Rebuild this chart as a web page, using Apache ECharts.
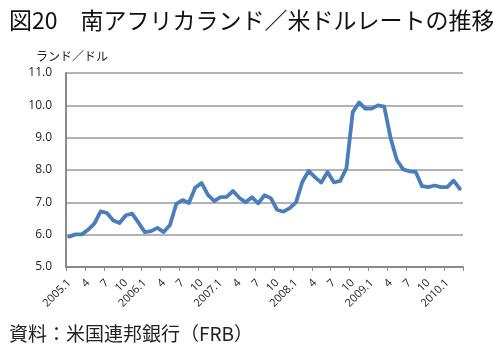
<!DOCTYPE html>
<html>
<head>
<meta charset="utf-8">
<script src="https://cdn.jsdelivr.net/npm/echarts@6/dist/echarts.min.js"></script>
<style>
html,body{margin:0;padding:0;background:#fff;}
#c{width:493px;height:355px;}
</style>
</head>
<body>
<div id="c"></div>
<script>
var categories = [
  "2005.1","2005.2","2005.3","2005.4","2005.5","2005.6","2005.7","2005.8","2005.9","2005.10","2005.11","2005.12",
  "2006.1","2006.2","2006.3","2006.4","2006.5","2006.6","2006.7","2006.8","2006.9","2006.10","2006.11","2006.12",
  "2007.1","2007.2","2007.3","2007.4","2007.5","2007.6","2007.7","2007.8","2007.9","2007.10","2007.11","2007.12",
  "2008.1","2008.2","2008.3","2008.4","2008.5","2008.6","2008.7","2008.8","2008.9","2008.10","2008.11","2008.12",
  "2009.1","2009.2","2009.3","2009.4","2009.5","2009.6","2009.7","2009.8","2009.9","2009.10","2009.11","2009.12",
  "2010.1","2010.2","2010.3"
];
var randPerDollar = [
  5.94, 6.01, 6.01, 6.15, 6.34, 6.72, 6.67, 6.44, 6.36, 6.60, 6.65, 6.37,
  6.08, 6.11, 6.21, 6.08, 6.30, 6.95, 7.07, 6.98, 7.45, 7.60, 7.24, 7.04,
  7.16, 7.17, 7.35, 7.14, 7.00, 7.16, 6.97, 7.22, 7.13, 6.77, 6.71, 6.82,
  7.00, 7.63, 7.97, 7.78, 7.61, 7.94, 7.62, 7.66, 8.05, 9.79, 10.09, 9.90,
  9.90, 10.00, 9.96, 9.00, 8.31, 8.02, 7.96, 7.94, 7.50, 7.47, 7.52, 7.47,
  7.47, 7.67, 7.42
];
var yTicks = [5, 6, 7, 8, 9, 10, 11];

var chart = echarts.init(document.getElementById('c'), null, {renderer: 'canvas'});
chart.setOption({
  animation: false,
  backgroundColor: '#ffffff',
  title: [
    {text: '図20　南アフリカランド／米ドルレートの推移', left: 4, top: 4,
     textStyle: {fontFamily: 'Noto Sans CJK JP', fontSize: 23, fontWeight: 'normal', color: '#111'}},
    {text: 'ランド／ドル', left: 31, top: 45,
     textStyle: {fontFamily: 'Noto Sans CJK JP', fontSize: 12, fontWeight: 'normal', color: '#222'}},
    {text: '資料：米国連邦銀行（FRB）', left: 4, top: 319,
     textStyle: {fontFamily: 'Noto Sans CJK JP', fontSize: 19, fontWeight: 'normal', color: '#222'}}
  ],
  grid: {left: 66, right: 30, top: 73, bottom: 88},
  xAxis: {
    type: 'category',
    data: categories,
    boundaryGap: true,
    axisLine: {lineStyle: {color: '#8a8a8a', width: 2}},
    axisTick: {show: true, interval: 2, length: 4, lineStyle: {color: '#8a8a8a', width: 1}},
    axisLabel: {
      interval: 2, rotate: 45, margin: 14,
      fontFamily: 'Open Sans', fontSize: 11, color: '#222',
      formatter: function (v) {
        var p = v.split('.');
        return p[1] === '1' ? v : p[1];
      }
    }
  },
  yAxis: {
    type: 'value',
    min: yTicks[0], max: yTicks[yTicks.length - 1], interval: 1,
    axisLine: {show: true, lineStyle: {color: '#8a8a8a', width: 2}},
    axisTick: {show: false},
    axisLabel: {
      margin: 14, fontFamily: 'Open Sans', fontSize: 12, color: '#222',
      formatter: function (v) { return v.toFixed(1); }
    },
    splitLine: {lineStyle: {color: '#9a9a9a', width: 1.5}}
  },
  series: [{
    type: 'line',
    data: randPerDollar,
    symbol: 'none',
    smooth: false,
    lineStyle: {color: '#4A7EBB', width: 3.8, join: 'round', cap: 'round'}
  }]
});
</script>
</body>
</html>
